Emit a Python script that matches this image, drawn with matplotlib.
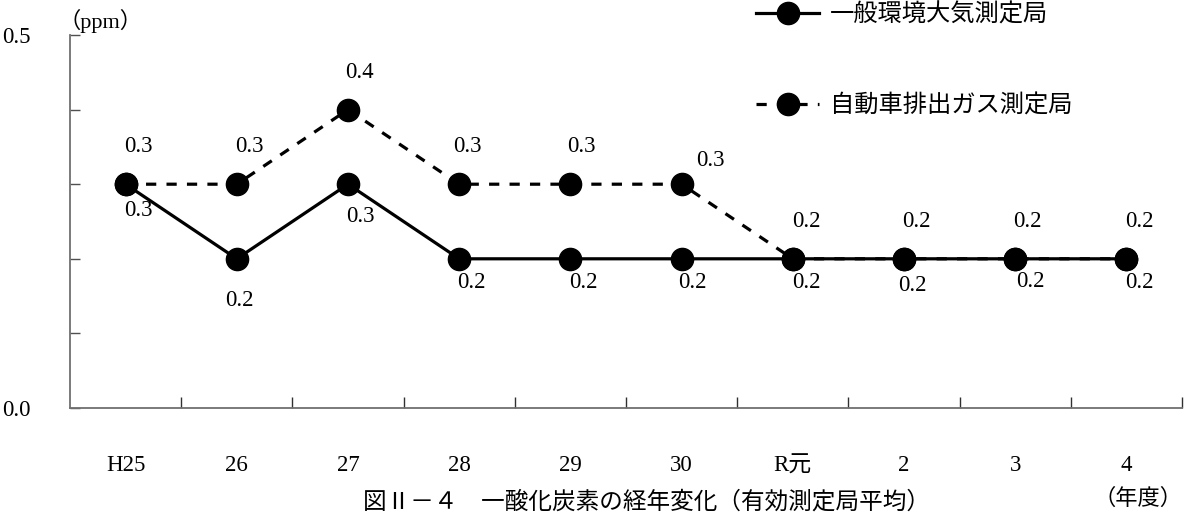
import matplotlib
matplotlib.use("Agg")
import matplotlib.pyplot as plt
import numpy as np

categories = ["H25", "26", "27", "28", "29", "30", "R元", "2", "3", "4"]
general = [0.3, 0.2, 0.3, 0.2, 0.2, 0.2, 0.2, 0.2, 0.2, 0.2]
roadside = [0.3, 0.3, 0.4, 0.3, 0.3, 0.3, 0.2, 0.2, 0.2, 0.2]
series_names = ["一般環境大気測定局", "自動車排出ガス測定局"]
y_tick_labels = ["0.0", "0.5"]
unit_label = "（ppm）"
x_unit_label = "（年度）"
title = "図Ⅱ－４　一酸化炭素の経年変化（有効測定局平均）"

# label offsets in points (style)
general_off = [(9, -19), (2, -30), (9, -23), (9, -17), (9, -17), (8, -17), (10, -17), (6, -19), (11, -16), (9, -17)]
roadside_off = [(9, 27), (9, 27), (8, 27), (6, 27), (8, 27), (21, 17), (10, 27), (9, 27), (9, 27), (9, 27)]

num_font = ["Liberation Serif", "Noto Sans CJK JP"]
jp_font = ["Noto Sans CJK JP", "DejaVu Sans"]
plt.rcParams["font.family"] = num_font

fig = plt.figure(figsize=(11.86, 5.15), dpi=100)
ax = fig.add_axes([70/1186, 107/515, 1112/1186, 373/515])

x = np.arange(len(categories))
ax.plot(x, roadside, color="black", lw=2.3, ls=(0, (3.2, 3.2)), marker="o",
        ms=16, zorder=3, clip_on=False, label=series_names[1])
ax.plot(x, general, color="black", lw=2.3, ls="-", marker="o",
        ms=16, zorder=4, clip_on=False, label=series_names[0])

for i, v in enumerate(roadside):
    ax.annotate(f"{v:.1f}", (x[i], v), xytext=roadside_off[i], textcoords="offset points",
                ha="center", va="center", fontsize=16.5, family=num_font)
for i, v in enumerate(general):
    ax.annotate(f"{v:.1f}", (x[i], v), xytext=general_off[i], textcoords="offset points",
                ha="center", va="center", fontsize=16.5, family=num_font)

ax.set_xlim(-0.5, len(categories) - 0.5)
ax.set_ylim(0, 0.5)
for s in ["top", "right"]:
    ax.spines[s].set_visible(False)
for s in ["left", "bottom"]:
    ax.spines[s].set_color("#707070")
    ax.spines[s].set_linewidth(1.3)

ax.set_yticks(np.arange(0, 0.51, 0.1))
ax.set_yticklabels([y_tick_labels[0], "", "", "", "", y_tick_labels[1]])
ax.tick_params(axis="y", direction="in", length=7, width=1, color="#505050",
               labelsize=16.5, pad=28)
ax.set_xticks(x)
ax.set_xticklabels(categories, fontsize=16.5)
ax.set_xticks(np.arange(0.5, len(categories), 1.0), minor=True)
ax.tick_params(axis="x", which="major", length=0, pad=34, labelsize=16.5)
ax.tick_params(axis="x", which="minor", direction="in", length=8, width=1, color="#303030")

fig.text(58/1186, 1 - 21/515, unit_label, fontsize=16, family=num_font, ha="left", va="center")
fig.text(1138/1186, 1 - 499/515, x_unit_label, fontsize=16, family=num_font, ha="center", va="center")
fig.text(0.545, 1 - 491/515, title, fontsize=17, family=jp_font, ha="center", va="top")

handles, labels = ax.get_legend_handles_labels()
leg = fig.legend(handles[::-1], labels[::-1], loc="upper left",
                 bbox_to_anchor=(756/1186, 1 - 2/515), frameon=False,
                 prop={"family": jp_font, "size": 17.5}, labelspacing=2.65,
                 handlelength=2.6, handletextpad=0.45, borderpad=0, borderaxespad=0)

fig.savefig("out.png", dpi=100)
